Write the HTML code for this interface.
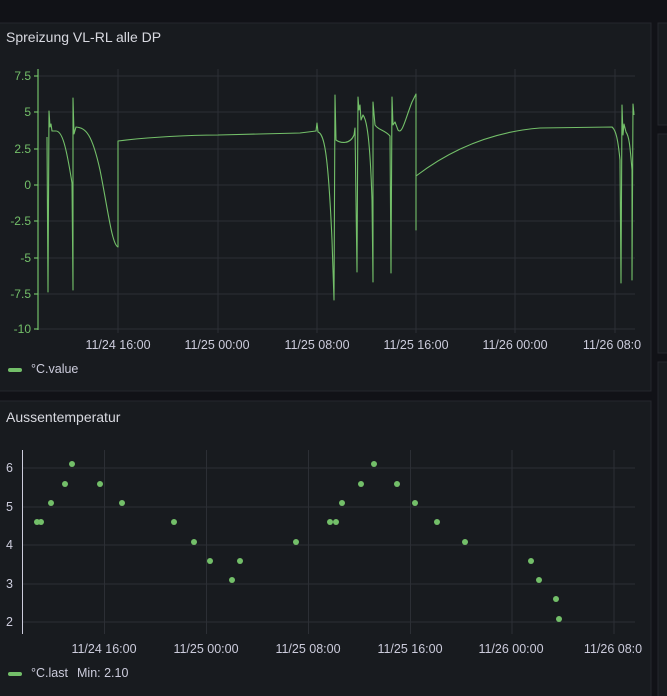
<!DOCTYPE html>
<html><head><meta charset="utf-8"><style>
html,body{margin:0;padding:0;background:#111217;width:667px;height:696px;overflow:hidden}
svg{display:block;font-family:"Liberation Sans",sans-serif}
</style></head><body>
<svg width="667" height="696" viewBox="0 0 667 696">
<rect width="667" height="696" fill="#111217"/>
<rect x="-1" y="23" width="652" height="368" fill="#181b1f" stroke="#25272d"/>
<rect x="-1" y="401" width="652" height="300" fill="#181b1f" stroke="#25272d"/>
<rect x="658" y="23" width="12" height="102" fill="#181b1f" stroke="#25272d"/>
<rect x="658" y="134" width="12" height="219" fill="#181b1f" stroke="#25272d"/>
<rect x="658" y="362" width="12" height="340" fill="#181b1f" stroke="#25272d"/>
<text x="6" y="42" fill="#d8d9e0" font-size="14" font-weight="500">Spreizung VL-RL alle DP</text>
<text x="6" y="422" fill="#d8d9e0" font-size="14" font-weight="500">Aussentemperatur</text>
<g stroke="#2c2f35" stroke-width="1">
<line x1="38" y1="76" x2="635" y2="76"/><line x1="38" y1="112" x2="635" y2="112"/><line x1="38" y1="149" x2="635" y2="149"/><line x1="38" y1="185" x2="635" y2="185"/><line x1="38" y1="221" x2="635" y2="221"/><line x1="38" y1="258" x2="635" y2="258"/><line x1="38" y1="294" x2="635" y2="294"/><line x1="38" y1="329" x2="635" y2="329"/>
<line x1="118" y1="69" x2="118" y2="333"/><line x1="218" y1="69" x2="218" y2="333"/><line x1="317" y1="69" x2="317" y2="333"/><line x1="416" y1="69" x2="416" y2="333"/><line x1="515" y1="69" x2="515" y2="333"/><line x1="615" y1="69" x2="615" y2="333"/>
<line x1="22" y1="468" x2="635" y2="468"/><line x1="22" y1="507" x2="635" y2="507"/><line x1="22" y1="545" x2="635" y2="545"/><line x1="22" y1="584" x2="635" y2="584"/><line x1="22" y1="622" x2="635" y2="622"/>
<line x1="104.5" y1="450" x2="104.5" y2="634"/><line x1="206.5" y1="450" x2="206.5" y2="634"/><line x1="308.5" y1="450" x2="308.5" y2="634"/><line x1="410.5" y1="450" x2="410.5" y2="634"/><line x1="512" y1="450" x2="512" y2="634"/><line x1="614" y1="450" x2="614" y2="634"/>
</g>
<g stroke="#73bf69" stroke-width="1.2"><line x1="38" y1="69" x2="38" y2="330"/>
<line x1="34" y1="76" x2="38" y2="76"/><line x1="34" y1="112" x2="38" y2="112"/><line x1="34" y1="149" x2="38" y2="149"/><line x1="34" y1="185" x2="38" y2="185"/><line x1="34" y1="221" x2="38" y2="221"/><line x1="34" y1="258" x2="38" y2="258"/><line x1="34" y1="294" x2="38" y2="294"/><line x1="34" y1="329" x2="38" y2="329"/></g>
<g fill="#73bf69" font-size="12" text-anchor="end">
<text x="31" y="80">7.5</text><text x="31" y="116">5</text><text x="31" y="153">2.5</text><text x="31" y="189">0</text><text x="31" y="225">-2.5</text><text x="31" y="262">-5</text><text x="31" y="298">-7.5</text><text x="31" y="333">-10</text></g>
<g fill="#ccccdc" font-size="12.5" text-anchor="middle">
<text x="118" y="349">11/24 16:00</text><text x="217" y="349">11/25 00:00</text><text x="317" y="349">11/25 08:00</text><text x="416" y="349">11/25 16:00</text><text x="515" y="349">11/26 00:00</text><text x="612" y="349">11/26 08:0</text>
<text x="104" y="653">11/24 16:00</text><text x="206" y="653">11/25 00:00</text><text x="308" y="653">11/25 08:00</text><text x="410" y="653">11/25 16:00</text><text x="511" y="653">11/26 00:00</text><text x="613" y="653">11/26 08:0</text></g>
<path fill="none" stroke="#73bf69" stroke-width="1.1" stroke-linejoin="round" d="M47,137 L48,292 L49,111 L50,127 L51,124 L52,131 L56,131 C62,131 66,145 72,183 L73,290 L73,98 L74,134 L76,127 C86,128 92,134 100,170 C108,210 112,245 118,247 L118,141 C150,137 190,135 218,135 L300,133 L316,131 L317,123 L318,132 C324,134 328,150 332,240 L334,300 L335,95 L336,140 C340,143 350,145 354,135 L355,128 L357,272 L358,97 L359,110 L360,105 L361,120 L363,115 C367,120 370,140 372,200 L373,282 L373,102 L375,125 C378,130 385,130 390,136 L391,273 L392,97 L393,125 L395,122 L398,130 C402,135 405,120 412,102 L416,94 L416,230 L416,176 C450,150 490,132 540,128 L612,127 C616,130 618,140 620,160 L621,283 L622,105 L623,135 L624,124 L626,132 C629,136 630,145 632,170 L632,280 L633,104 L634,115"/>
<g stroke="#ccccdc" stroke-width="1"><line x1="22.5" y1="450" x2="22.5" y2="634"/></g>
<g fill="#ccccdc" font-size="12.5" text-anchor="end">
<text x="13" y="472">6</text><text x="13" y="511">5</text><text x="13" y="549">4</text><text x="13" y="588">3</text><text x="13" y="626">2</text></g>
<g fill="#73bf69">
<circle cx="37" cy="522" r="3"/><circle cx="41" cy="522" r="3"/><circle cx="51" cy="503" r="3"/><circle cx="65" cy="484" r="3"/><circle cx="72" cy="464" r="3"/><circle cx="100" cy="484" r="3"/><circle cx="122" cy="503" r="3"/><circle cx="174" cy="522" r="3"/><circle cx="194" cy="542" r="3"/><circle cx="210" cy="561" r="3"/><circle cx="232" cy="580" r="3"/><circle cx="240" cy="561" r="3"/><circle cx="296" cy="542" r="3"/><circle cx="330" cy="522" r="3"/><circle cx="336" cy="522" r="3"/><circle cx="342" cy="503" r="3"/><circle cx="361" cy="484" r="3"/><circle cx="374" cy="464" r="3"/><circle cx="397" cy="484" r="3"/><circle cx="415" cy="503" r="3"/><circle cx="437" cy="522" r="3"/><circle cx="465" cy="542" r="3"/><circle cx="531" cy="561" r="3"/><circle cx="539" cy="580" r="3"/><circle cx="556" cy="599" r="3"/><circle cx="559" cy="619" r="3"/>
<rect x="8" y="368" width="14" height="4" rx="2"/><rect x="8" y="672" width="14" height="4" rx="2"/></g>
<g fill="#ccccdc" font-size="12.5"><text x="31" y="373">°C.value</text><text x="31" y="677">°C.last</text><text x="77" y="677">Min: 2.10</text></g>
</svg>
</body></html>
